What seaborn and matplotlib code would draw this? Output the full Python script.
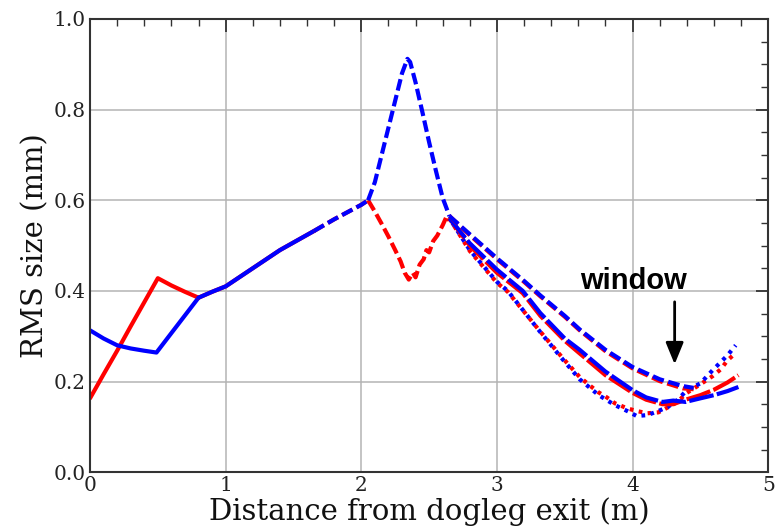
import matplotlib

matplotlib.use("Agg")

import matplotlib.pyplot as plt
import seaborn as sns
from matplotlib.ticker import MultipleLocator

# dogleg exit -> window, solid section before the dispersion region
SOLID_RED_X = [0.0, 0.1, 0.2, 0.3, 0.4, 0.5, 0.6, 0.7, 0.8]
SOLID_RED_Y = [0.163, 0.216, 0.268, 0.322, 0.375, 0.428, 0.412, 0.398, 0.385]
SOLID_BLUE_X = [0.0, 0.1, 0.2, 0.3, 0.4, 0.49, 0.6, 0.7, 0.8]
SOLID_BLUE_Y = [0.313, 0.295, 0.280, 0.273, 0.268, 0.264, 0.307, 0.346, 0.385]

SHARED_X = [0.8, 0.9, 1.0, 1.2, 1.4, 1.65]
SHARED_Y = [0.385, 0.398, 0.410, 0.450, 0.490, 0.532]
SHARED_DASH_X = [1.65, 1.8, 2.0, 2.05]
SHARED_DASH_Y = [0.532, 0.558, 0.590, 0.600]

PEAK_BLUE_X = [2.05, 2.1, 2.15, 2.2, 2.25, 2.3, 2.34, 2.36, 2.4, 2.45, 2.5, 2.55, 2.6, 2.65]
PEAK_BLUE_Y = [0.600, 0.640, 0.700, 0.760, 0.820, 0.880, 0.912, 0.905, 0.860, 0.795, 0.728, 0.665, 0.605, 0.565]
PEAK_RED_X = [2.05, 2.1, 2.15, 2.2, 2.25, 2.29, 2.32, 2.35, 2.38, 2.40, 2.43, 2.46, 2.48,
              2.5, 2.53, 2.56, 2.6, 2.63, 2.65]
PEAK_RED_Y = [0.600, 0.575, 0.548, 0.520, 0.490, 0.465, 0.440, 0.425, 0.440, 0.430, 0.458,
              0.470, 0.490, 0.485, 0.510, 0.522, 0.545, 0.565, 0.555]

UPPER_X = [2.65, 2.8, 3.0, 3.2, 3.32, 3.5, 3.61, 3.8, 4.0, 4.2, 4.37, 4.45]
UPPER_BLUE_Y = [0.565, 0.525, 0.472, 0.422, 0.390, 0.345, 0.315, 0.270, 0.232, 0.205, 0.190, 0.186]
UPPER_RED_Y = [0.565, 0.523, 0.470, 0.420, 0.388, 0.343, 0.313, 0.267, 0.229, 0.201, 0.185, 0.183]

MIDDLE_X = [2.65, 2.8, 3.0, 3.19, 3.32, 3.5, 3.61, 3.8, 4.0, 4.1, 4.22, 4.3, 4.39,
            4.5, 4.6, 4.7, 4.78]
MIDDLE_BLUE_Y = [0.560, 0.505, 0.447, 0.400, 0.351, 0.295, 0.270, 0.222, 0.181, 0.165,
                 0.155, 0.158, 0.155, 0.163, 0.170, 0.179, 0.188]
MIDDLE_RED_Y = [0.560, 0.500, 0.440, 0.395, 0.345, 0.290, 0.262, 0.214, 0.175, 0.160,
                0.150, 0.150, 0.160, 0.170, 0.182, 0.198, 0.214]

LOWER_X = [2.65, 2.8, 3.0, 3.08, 3.32, 3.49, 3.61, 3.69, 3.75, 3.81, 3.87, 3.96, 4.03,
           4.11, 4.19, 4.26, 4.33, 4.40, 4.5, 4.59, 4.65, 4.70, 4.76]
LOWER_BLUE_Y = [0.560, 0.490, 0.420, 0.400, 0.309, 0.247, 0.205, 0.185, 0.170, 0.159,
                0.148, 0.135, 0.124, 0.126, 0.135, 0.144, 0.159, 0.181, 0.196, 0.225,
                0.243, 0.258, 0.280]
LOWER_RED_Y = [0.560, 0.488, 0.418, 0.398, 0.310, 0.250, 0.210, 0.190, 0.176, 0.165,
               0.152, 0.141, 0.135, 0.130, 0.132, 0.143, 0.155, 0.175, 0.194, 0.212,
               0.227, 0.247, 0.263]

RED = "#ff0000"
BLUE = "#0000ff"
LW = 3.0
SOLID = "-"
DASHED = (0, (2.8, 1.1))
LONG_DASH = (0, (6.0, 0.8))
DOTTED = (0, (0.9, 1.3))


def draw(ax, x, y, color, ls):
    sns.lineplot(x=x, y=y, color=color, linewidth=LW, linestyle=ls,
                 sort=False, estimator=None, ax=ax)


def main() -> None:
    sns.set_theme(style="white")
    plt.rcParams["font.family"] = ["DejaVu Serif"]
    plt.rcParams["mathtext.fontset"] = "dejavuserif"

    fig = plt.figure(figsize=(7.76, 5.27), dpi=100)
    ax = fig.add_axes([0.116, 0.104, 0.874, 0.860])

    draw(ax, SOLID_RED_X, SOLID_RED_Y, RED, SOLID)
    draw(ax, SOLID_BLUE_X, SOLID_BLUE_Y, BLUE, SOLID)
    draw(ax, SHARED_X, SHARED_Y, RED, SOLID)
    draw(ax, SHARED_X, SHARED_Y, BLUE, SOLID)
    draw(ax, SHARED_DASH_X, SHARED_DASH_Y, RED, DASHED)
    draw(ax, SHARED_DASH_X, SHARED_DASH_Y, BLUE, DASHED)
    draw(ax, PEAK_RED_X, PEAK_RED_Y, RED, DASHED)
    draw(ax, PEAK_BLUE_X, PEAK_BLUE_Y, BLUE, DASHED)

    draw(ax, LOWER_X, LOWER_RED_Y, RED, DOTTED)
    draw(ax, LOWER_X, LOWER_BLUE_Y, BLUE, (0.9, (0.9, 1.3)))
    draw(ax, MIDDLE_X, MIDDLE_RED_Y, RED, LONG_DASH)
    draw(ax, MIDDLE_X, MIDDLE_BLUE_Y, BLUE, LONG_DASH)
    draw(ax, UPPER_X, UPPER_RED_Y, RED, DASHED)
    draw(ax, UPPER_X, UPPER_BLUE_Y, BLUE, DASHED)

    ax.annotate("", xy=(4.31, 0.232), xytext=(4.31, 0.382),
                arrowprops=dict(arrowstyle="-|>,head_width=0.45,head_length=1.1",
                                color="black", lw=2))
    ax.text(4.01, 0.404, "window", ha="center", va="baseline", color="black",
            fontsize=21, fontweight="bold", family=["Liberation Sans"])

    ax.set_xlim(0, 5)
    ax.set_ylim(0, 1.0)
    ax.xaxis.set_major_locator(MultipleLocator(1))
    ax.xaxis.set_minor_locator(MultipleLocator(0.2))
    ax.yaxis.set_major_locator(MultipleLocator(0.2))
    ax.yaxis.set_minor_locator(MultipleLocator(0.05))
    ax.set_yticks([0.0, 0.2, 0.4, 0.6, 0.8, 1.0])
    ax.set_yticklabels(["0.0", "0.2", "0.4", "0.6", "0.8", "1.0"])
    ax.set_xticks([0, 1, 2, 3, 4, 5])
    ax.set_xticklabels(["0", "1", "2", "3", "4", "5"])

    ax.grid(True, which="major", color="#b4b4b4", linewidth=1.1)
    ax.tick_params(which="both", direction="in", top=True, right=True,
                   labelsize=14.5, colors="#333333", labelcolor="#222222")
    ax.tick_params(which="major", length=9, width=1.3, pad=3)
    ax.tick_params(which="minor", length=5, width=1.0)
    for spine in ax.spines.values():
        spine.set_color("#333333")
        spine.set_linewidth(1.5)

    ax.set_xlabel("Distance from dogleg exit (m)", fontsize=21, labelpad=1,
                  color="#111111")
    ax.set_ylabel("RMS size (mm)", fontsize=21, labelpad=3, color="#111111")

    fig.savefig("out.png", dpi=100)


if __name__ == "__main__":
    main()
